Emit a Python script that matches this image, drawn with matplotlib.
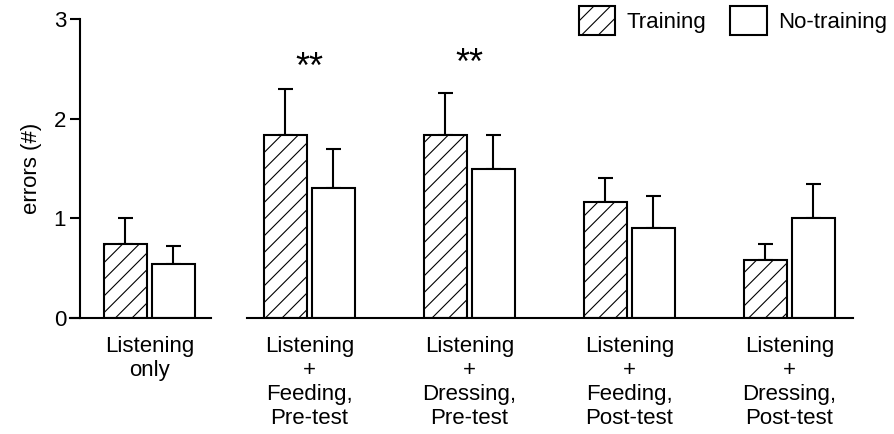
import numpy as np
import matplotlib
matplotlib.use("Agg")
import matplotlib.pyplot as plt
from matplotlib.patches import Patch

plt.rcParams['font.family'] = ['Liberation Sans', 'DejaVu Sans']
plt.rcParams['hatch.linewidth'] = 0.8

# mean errors and upper error bar ends for each condition
conditions = ['Listening\nonly',
              'Listening\n+\nFeeding,\nPre-test',
              'Listening\n+\nDressing,\nPre-test',
              'Listening\n+\nFeeding,\nPost-test',
              'Listening\n+\nDressing,\nPost-test']
training = [0.74, 1.84, 1.84, 1.16, 0.58]
training_err = [0.26, 0.46, 0.42, 0.24, 0.16]
no_training = [0.54, 1.30, 1.50, 0.90, 1.00]
no_training_err = [0.18, 0.40, 0.34, 0.32, 0.34]
signif = ['', '**', '**', '', '']
signif_y = [0, 2.58, 2.62, 0, 0]

x = np.arange(len(conditions))
w = 0.27
off = 0.15
lw = 1.5

fig = plt.figure(figsize=(8.94, 4.34), dpi=100)
ax = fig.add_axes([80 / 894, 1 - 318 / 434, (853 - 80) / 894, (318 - 19) / 434])

ax.bar(x - off, training, w, color='white', edgecolor='black', linewidth=lw,
       hatch='//', zorder=2)
ax.bar(x + off, no_training, w, color='white', edgecolor='black', linewidth=lw,
       zorder=2)
ax.errorbar(x - off, training, yerr=[np.zeros(len(x)), training_err], fmt='none',
            ecolor='black', elinewidth=lw, capsize=5.4, capthick=lw, zorder=1)
ax.errorbar(x + off, no_training, yerr=[np.zeros(len(x)), no_training_err], fmt='none',
            ecolor='black', elinewidth=lw, capsize=5.4, capthick=lw, zorder=1)

for xi, s, sy in zip(x, signif, signif_y):
    if s:
        ax.text(xi, sy - 0.08, s, ha='center', va='center', fontsize=26)

xmin, xmax = -0.434, 4.397
ax.set_xlim(xmin, xmax)
ax.set_ylim(0, 3)
ax.set_yticks([0, 1, 2, 3])
ax.tick_params(axis='y', direction='out', length=7, width=lw, labelsize=16, pad=3)
ax.set_xticks(x)
ax.set_xticklabels(conditions, fontsize=16, linespacing=1.18)
ax.tick_params(axis='x', length=0, pad=13)
ax.set_ylabel('errors (#)', fontsize=16, labelpad=8)

for side in ['top', 'right', 'bottom']:
    ax.spines[side].set_visible(False)
ax.spines['left'].set_linewidth(lw)

# broken baseline: one piece under the first group, one under the rest
span = xmax - xmin
ax.axhline(0, xmin=0, xmax=(x[0] + 0.384 - xmin) / span, color='black', lw=lw,
           clip_on=False, zorder=3)
ax.axhline(0, xmin=(x[1] - 0.39 - xmin) / span, xmax=1, color='black', lw=lw,
           clip_on=False, zorder=3)
ax.plot([xmin - 0.065, xmin], [0, 0], color='black', lw=lw, clip_on=False)

handles = [Patch(facecolor='white', edgecolor='black', hatch='//', linewidth=lw, label='Training'),
           Patch(facecolor='white', edgecolor='black', linewidth=lw, label='No-training')]
fig.legend(handles=handles, loc='upper right', bbox_to_anchor=(887 / 894, 1 - 6 / 434),
           ncol=2, frameon=False, fontsize=16, handlelength=1.65, handleheight=1.65,
           handletextpad=0.5, columnspacing=1.08, borderpad=0, borderaxespad=0)

fig.savefig('out.png', dpi=100)
